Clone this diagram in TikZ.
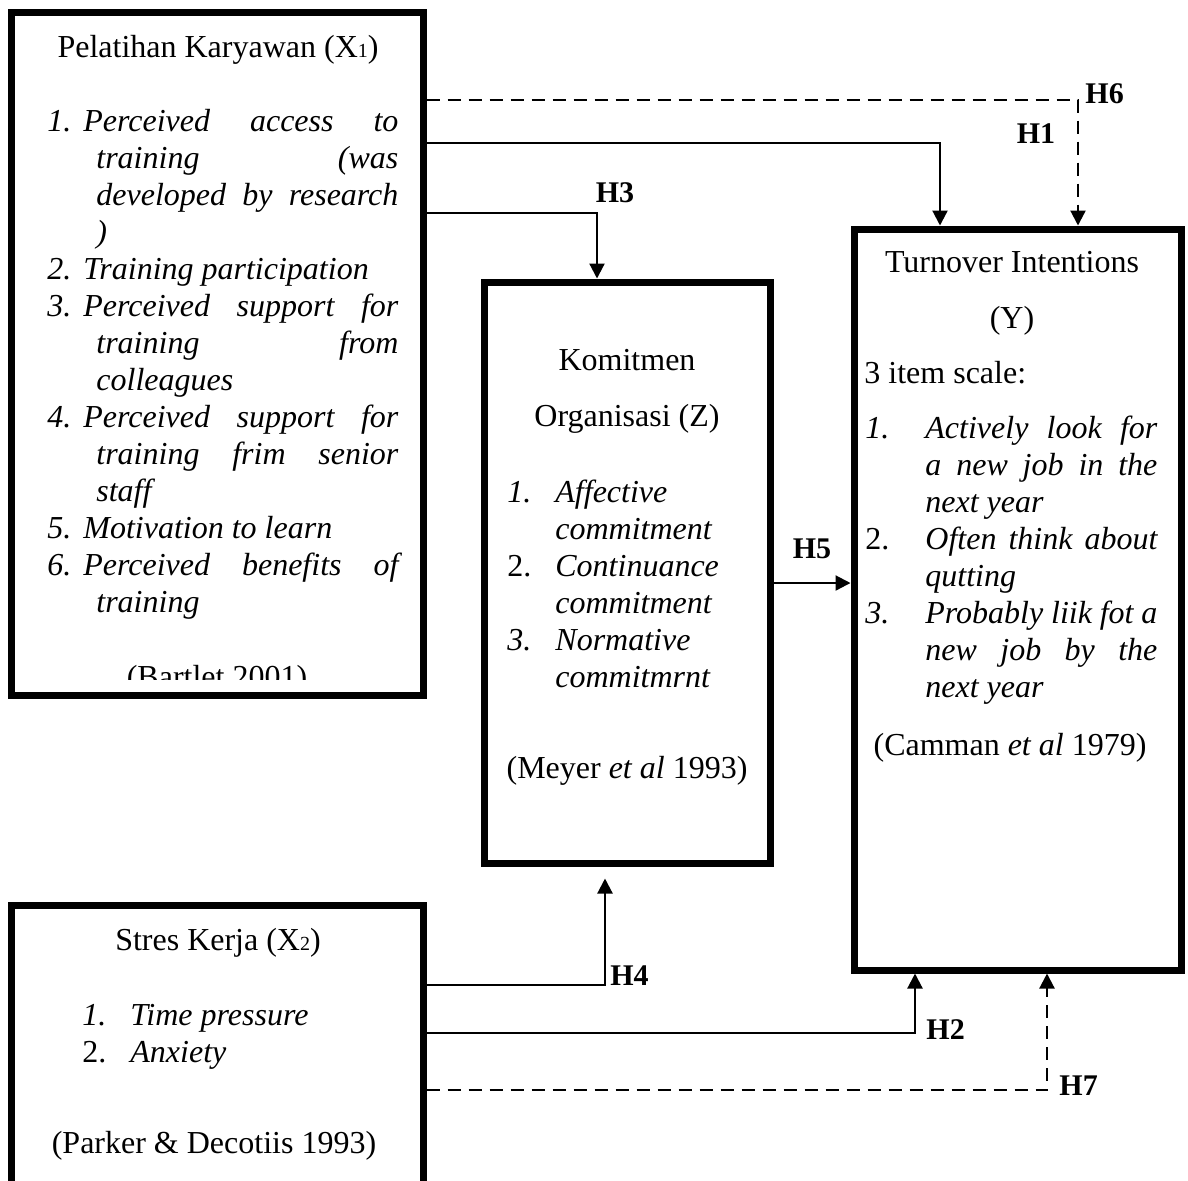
\documentclass[tikz,border=0pt]{standalone}
\usepackage{fontspec}
\setmainfont{Liberation Serif}
\usetikzlibrary{arrows.meta,positioning,calc}

\newcommand{\bodyfont}{\fontsize{16}{18.5}\selectfont}
\newcommand{\subidx}[1]{{\fontsize{10}{10}\selectfont #1}}

% list lines: justified (j) or left (l), first line of an item or continuation
\newlength\numw \newlength\firstw \newlength\contind \newlength\contw
\newcommand{\jitem}[2]{\makebox[\numw][l]{#1}\makebox[\firstw][s]{#2}}
\newcommand{\litem}[2]{\makebox[\numw][l]{#1}#2}
\newcommand{\jcont}[1]{\hspace*{\contind}\makebox[\contw][s]{#1}}
\newcommand{\lcont}[1]{\hspace*{\contind}#1}

\begin{document}
\begin{tikzpicture}[x=0.5pt, y=-0.5pt,
    every node/.style={font=\bodyfont, inner sep=0pt},
    box/.style={draw, rectangle, line width=3.5pt},
    link/.style={line width=1.1pt, -{Triangle[length=7.5pt,width=7.5pt]}},
    dlink/.style={link, dash pattern=on 6.5pt off 4pt},
    hyp/.style={font=\fontsize{15}{15}\selectfont\bfseries}]

\clip (0,0) rectangle (1188,1180);

% Variable boxes
\node[box, minimum width=206pt, minimum height=341.5pt] (x1) at (217,354) {};
\node[box, minimum width=143pt, minimum height=290.5pt] (z) at (627,572.5) {};
\node[box, minimum width=163.5pt, minimum height=370.5pt] (y) at (1017.5,599.5) {};
\node[box, minimum width=206pt, minimum height=147.5pt] (x2) at (217,1052.5) {};

% Pelatihan Karyawan (X1)
\node[anchor=base] (x1title) at (218,57) {Pelatihan Karyawan (X\subidx{1})};
\node[anchor=base west] (x1list) at (47,131) {\itshape
  \setlength\numw{18pt}\setlength\firstw{157.5pt}%
  \setlength\contind{24.5pt}\setlength\contw{151pt}%
  \parbox[t]{176pt}{%
    \jitem{1.}{Perceived access to}\\
    \jcont{training (was}\\
    \jcont{developed by research}\\
    \lcont{)}\\
    \litem{2.}{Training participation}\\
    \jitem{3.}{Perceived support for}\\
    \jcont{training from}\\
    \lcont{colleagues}\\
    \jitem{4.}{Perceived support for}\\
    \jcont{training frim senior}\\
    \lcont{staff}\\
    \litem{5.}{Motivation to learn}\\
    \jitem{6.}{Perceived benefits of}\\
    \lcont{training}}};
% citation cut off at the lower edge of the text area
\coordinate (x1cut) at (423,679);
\begin{scope}
  \clip (x1.north west) rectangle (x1cut);
  \node[anchor=base] (x1cite) at (217,687) {(Bartlet 2001)};
\end{scope}

% Komitmen Organisasi (Z)
\node[anchor=base] (ztitle) at (627,370) {Komitmen};
\node[anchor=base] (zsub) at (627,426) {Organisasi (Z)};
\node[anchor=base west] (zlist) at (507,502) {\itshape
  \setlength\numw{24pt}\setlength\contind{24pt}%
  \parbox[t]{130pt}{%
    \litem{1.}{Affective}\\
    \lcont{commitment}\\
    \litem{\textup{2.}}{Continuance}\\
    \lcont{commitment}\\
    \litem{3.}{Normative}\\
    \lcont{commitmrnt}}};
\node[anchor=base] (zcite) at (627,778) {(Meyer \textit{et al} 1993)};

% Turnover Intentions (Y)
\node[anchor=base] (ytitle) at (1012,272) {Turnover Intentions};
\node[anchor=base] (ysub) at (1012,328) {(Y)};
\node[anchor=base west] (yscale) at (864,383) {3 item scale:};
\node[anchor=base west] (ylist) at (865,438) {\itshape
  \setlength\numw{30pt}\setlength\firstw{116pt}%
  \setlength\contind{30pt}\setlength\contw{116pt}%
  \parbox[t]{146pt}{%
    \jitem{1.}{Actively look for}\\
    \jcont{a new job in the}\\
    \lcont{next year}\\
    \jitem{\textup{2.}}{Often think about}\\
    \lcont{qutting}\\
    \jitem{3.}{Probably liik fot a}\\
    \jcont{new job by the}\\
    \lcont{next year}}};
\node[anchor=base] (ycite) at (1010,755) {(Camman \textit{et al} 1979)};

% Stres Kerja (X2)
\node[anchor=base] (x2title) at (218,950) {Stres Kerja (X\subidx{2})};
\node[anchor=base west] (x2list) at (82,1025) {\itshape
  \setlength\numw{24pt}%
  \parbox[t]{150pt}{%
    \litem{1.}{Time pressure}\\
    \litem{\textup{2.}}{Anxiety}}};
\node[anchor=base] (x2cite) at (214,1153) {(Parker \& Decotiis 1993)};

% Bend points of the connectors
\coordinate (h6) at (1078,100);
\coordinate (h1) at (940,143);
\coordinate (h3) at (597,213);
\coordinate (h5) at (770,583);
\coordinate (h4) at (605,985);
\coordinate (h2) at (915,1033);
\coordinate (h7) at (1047,1090);

% Hypothesis paths
\draw[dlink] (x1.east |- h6) -- (h6) -- (y.north -| h6);
\draw[link] (x1.east |- h1) -- (h1) -- (y.north -| h1);
\draw[link] (x1.east |- h3) -- (h3) -- (z.north -| h3);
\draw[link] (h5 -| z.east) -- (h5 -| y.west);
\draw[link, shorten >=6pt] (x2.east |- h4) -- (h4) -- (z.south -| h4);
\draw[link] (x2.east |- h2) -- (h2) -- (y.south -| h2);
\draw[dlink] (x2.east |- h7) -- (h7) -- (y.south -| h7);

% Hypothesis labels
\node[hyp, anchor=west] (lh6) at (1085,94) {H6};
\node[hyp] (lh1) at (1036,134) {H1};
\node[hyp] (lh3) at (615,193) {H3};
\node[hyp] (lh5) at (812,549) {H5};
\node[hyp, anchor=west] (lh4) at (610,976) {H4};
\node[hyp, anchor=west] (lh2) at (926,1030) {H2};
\node[hyp, anchor=west] (lh7) at (1059,1086) {H7};

\end{tikzpicture}
\end{document}
